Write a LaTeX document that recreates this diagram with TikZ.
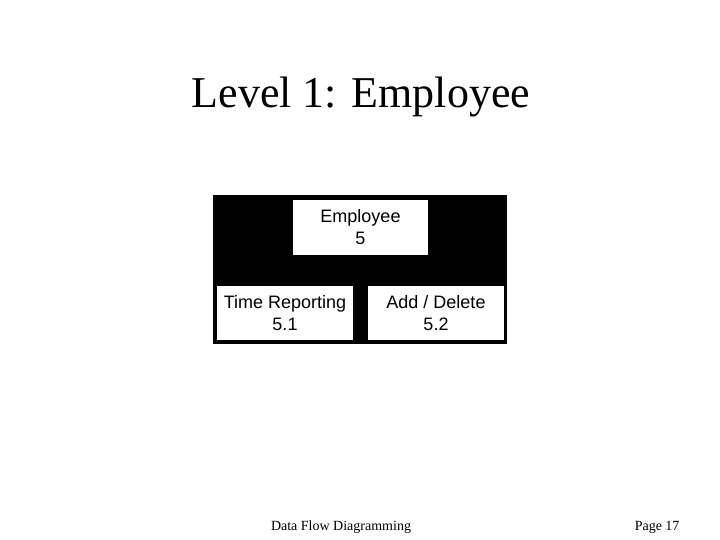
\documentclass[tikz,border=0pt]{standalone}
\usepackage{fontspec}
\setmainfont{Liberation Serif}
\setsansfont{Liberation Sans}

\begin{document}
\begin{tikzpicture}[x=1pt,y=-1pt,
    process/.style ={rectangle, fill=white, inner sep=0pt, align=center,
      font=\sffamily\fontsize{18}{22}\selectfont,
      minimum width=136pt, minimum height=54pt},
    frame/.style ={rectangle, fill=black, inner sep=0pt,
      minimum width=294pt, minimum height=148pt}]
   \useasboundingbox (0,0) rectangle (720,540);
   \node[font=\fontsize{44}{53}\selectfont] (title) at (361,97) {Level 1: Employee};
   \node[frame] (back) at (360,269.5) {};
   \node[process,minimum width=135pt,minimum height=55pt] (E) at (360.5,227.5) {Employee\\5};
   \node[process] (T) at (285,313) {Time Reporting\\5.1};
   \node[process] (A) at (436,313) {Add / Delete\\5.2};

   \node[font=\fontsize{14}{17}\selectfont] (foot) at (341,527) {Data Flow Diagramming};
   \node[font=\fontsize{14}{17}\selectfont,anchor=east] (page) at (683,527) {Page 17};
 \end{tikzpicture}
\end{document}
